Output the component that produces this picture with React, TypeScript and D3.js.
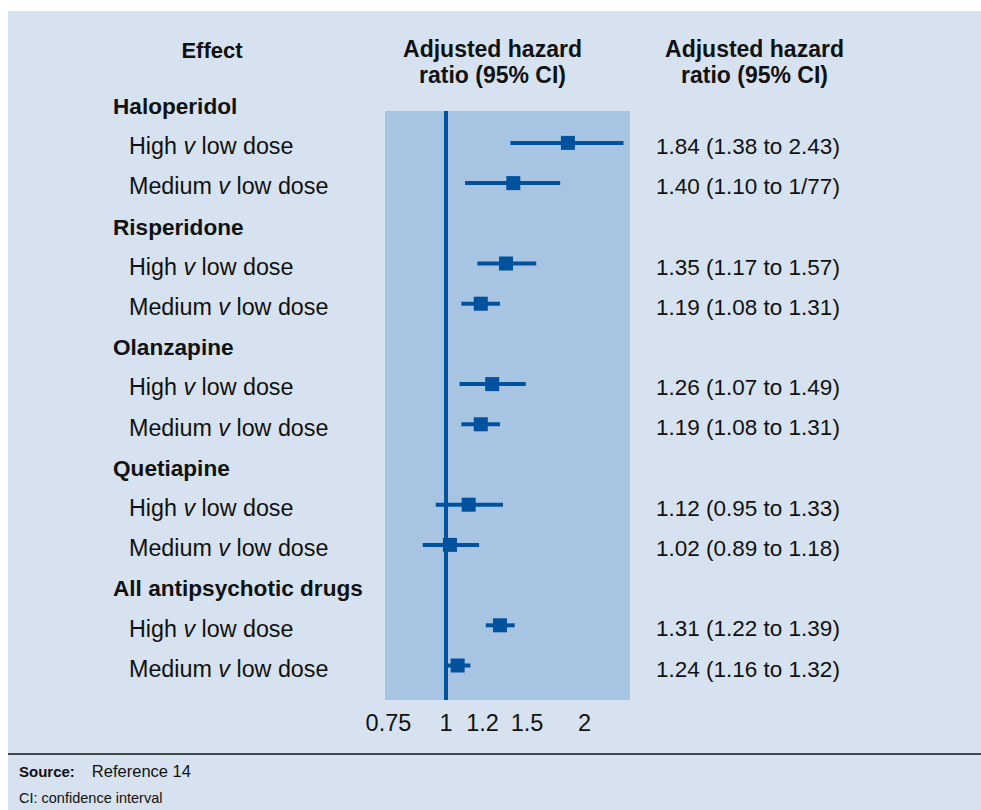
import React from "react";
import * as d3 from "d3";

const rowLabels = [
  "Haloperidol", "High v low dose", "Medium v low dose",
  "Risperidone", "High v low dose", "Medium v low dose",
  "Olanzapine", "High v low dose", "Medium v low dose",
  "Quetiapine", "High v low dose", "Medium v low dose",
  "All antipsychotic drugs", "High v low dose", "Medium v low dose",
];
const rowIsHeader = [true, false, false, true, false, false, true, false, false, true, false, false, true, false, false];
// plotted rows (index into rowLabels)
const pointRows = [1, 2, 4, 5, 7, 8, 10, 11, 13, 14];
const estimates = [1.84, 1.40, 1.35, 1.19, 1.26, 1.19, 1.12, 1.02, 1.31, 1.06];
const lowers = [1.38, 1.10, 1.17, 1.08, 1.07, 1.08, 0.95, 0.89, 1.22, 1.00];
const uppers = [2.43, 1.77, 1.57, 1.31, 1.49, 1.31, 1.33, 1.18, 1.41, 1.13];
const valueLabels = [
  "1.84 (1.38 to 2.43)", "1.40 (1.10 to 1/77)",
  "1.35 (1.17 to 1.57)", "1.19 (1.08 to 1.31)",
  "1.26 (1.07 to 1.49)", "1.19 (1.08 to 1.31)",
  "1.12 (0.95 to 1.33)", "1.02 (0.89 to 1.18)",
  "1.31 (1.22 to 1.39)", "1.24 (1.16 to 1.32)",
];
const tickValues = [0.75, 1, 1.2, 1.5, 2];
const xDomain = [0.737, 2.51];

const FONT = "'Liberation Sans', Arial, Helvetica, sans-serif";
const BG = "#d6e2f0";
const BOX = "#a7c5e2";
const BLUE = "#00529f";

export default function App() {
  const x = d3.scaleLog().domain(xDomain).range([385, 630]);
  const y = d3.scalePoint<number>().domain(d3.range(rowLabels.length)).range([102.7, 665.5]);
  const boxTop = 111;
  const boxBottom = 700;

  return (
    <svg
      width={981}
      height={810}
      style={{ position: "absolute", left: 0, top: 0, display: "block" }}
      fontFamily={FONT}
    >
      <rect x={8} y={11} width={973} height={799} fill={BG} />
      {/* column headers */}
      <g fontWeight="bold" fontSize={23} fill="#111" textAnchor="middle">
        <text x={212} y={57.5} fontSize={22}>Effect</text>
        <text x={492.5} y={57}>Adjusted hazard</text>
        <text x={492.5} y={83}>ratio (95% CI)</text>
        <text x={754.5} y={57}>Adjusted hazard</text>
        <text x={754.5} y={83}>ratio (95% CI)</text>
      </g>
      {/* plot box */}
      <rect x={x.range()[0]} y={boxTop} width={x.range()[1] - x.range()[0]} height={boxBottom - boxTop} fill={BOX} />
      <line x1={x(1)} x2={x(1)} y1={boxTop} y2={boxBottom} stroke={BLUE} strokeWidth={4} />
      {/* row labels */}
      {rowLabels.map((lab, i) => {
        const hdr = rowIsHeader[i];
        const parts = lab.split(" v ");
        return (
          <text
            key={i}
            x={hdr ? 113 : 129}
            y={(y(i) as number) + 11.3}
            fontSize={hdr ? 22.6 : 23.3}
            fontWeight={hdr ? "bold" : "normal"}
            fill="#111"
          >
            {hdr || parts.length < 2 ? lab : (
              <>
                {parts[0] + " "}
                <tspan fontStyle="italic">v</tspan>
                {" " + parts[1]}
              </>
            )}
          </text>
        );
      })}
      {/* CI lines and markers */}
      {pointRows.map((r, k) => {
        const yy = y(r) as number;
        return (
          <g key={r}>
            <line x1={x(lowers[k])} x2={x(uppers[k])} y1={yy} y2={yy} stroke={BLUE} strokeWidth={4} />
            <rect x={x(estimates[k]) - 7} y={yy - 7} width={14} height={14} fill={BLUE} />
            <text x={656} y={yy + 11} fontSize={22.5} fill="#111">{valueLabels[k]}</text>
          </g>
        );
      })}
      {/* tick labels */}
      {tickValues.map((t) => (
        <text key={t} x={x(t)} y={731} textAnchor="middle" fontSize={23.5} fill="#111">
          {String(t)}
        </text>
      ))}
      {/* footer */}
      <line x1={8} x2={981} y1={754} y2={754} stroke="#111" strokeWidth={1.3} />
      <text x={19} y={777} fill="#111">
        <tspan fontWeight="bold" fontSize={15}>Source:</tspan>
        <tspan dx={17} fontSize={16.5}>Reference 14</tspan>
      </text>
      <text x={19} y={803} fontSize={14.5} fill="#111">CI: confidence interval</text>
    </svg>
  );
}
